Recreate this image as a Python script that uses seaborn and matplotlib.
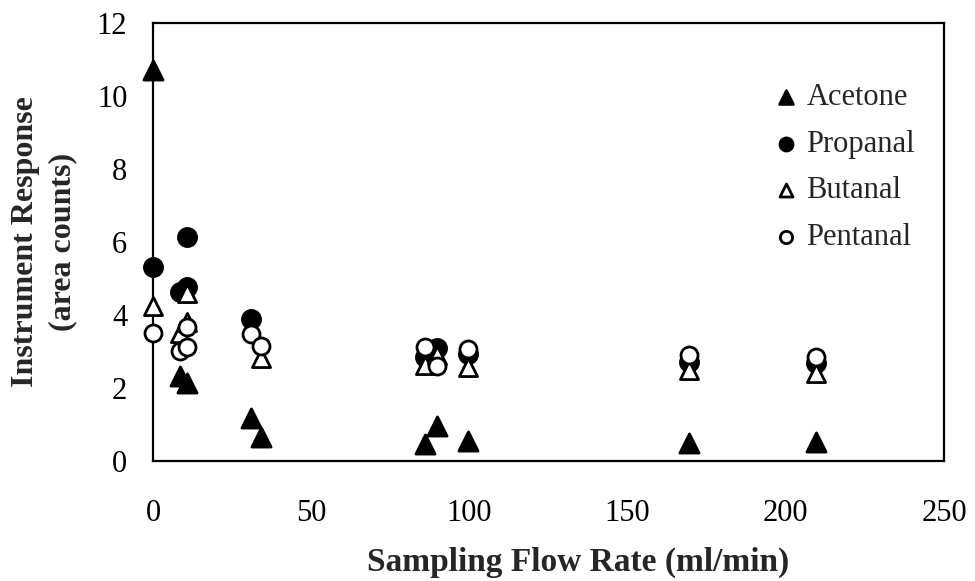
import matplotlib
matplotlib.use("Agg")
import matplotlib.pyplot as plt
import seaborn as sns
import pandas as pd

sns.set_theme(style="white")
plt.rcParams['font.family'] = ['Liberation Serif', 'DejaVu Serif']

acetone_x = [0, 8.5, 10.8, 31, 34, 86, 89.7, 99.5, 169.4, 209.7]
acetone_y = [10.7, 2.33, 2.15, 1.17, 0.67, 0.47, 0.96, 0.56, 0.48, 0.53]

propanal_x = [0, 8.5, 10.8, 10.8, 31, 86, 89.7, 99.5, 169.4, 209.7]
propanal_y = [5.32, 4.64, 4.78, 6.15, 3.88, 2.86, 3.10, 2.92, 2.72, 2.68]

butanal_x = [0, 8.5, 10.8, 10.8, 34, 86, 89.7, 99.5, 169.4, 209.7]
butanal_y = [4.25, 3.5, 3.82, 4.6, 2.81, 2.63, 2.9, 2.58, 2.49, 2.42]

pentanal_x = [0, 8.5, 10.8, 10.8, 31, 34, 86, 89.7, 99.5, 169.4, 209.7]
pentanal_y = [3.52, 3.02, 3.13, 3.68, 3.48, 3.15, 3.13, 2.6, 3.06, 2.9, 2.86]

x_ticks = [0, 50, 100, 150, 200, 250]
y_ticks = [0, 2, 4, 6, 8, 10, 12]

fig = plt.figure(figsize=(9.75, 5.81), dpi=100)
ax = fig.add_axes([153/975, 1-461/581, (944-153)/975, (461-23)/581])

series = [
    ("Acetone", acetone_x, acetone_y, "^", "black", 190),
    ("Propanal", propanal_x, propanal_y, "o", "black", 170),
    ("Butanal", butanal_x, butanal_y, "^", "white", 170),
    ("Pentanal", pentanal_x, pentanal_y, "o", "white", 150),
]
for name, xs, ys, m, fc, s in series:
    df = pd.DataFrame({"x": xs, "y": ys})
    sns.scatterplot(data=df, x="x", y="y", marker=m, s=s, color=fc,
                    edgecolor="black", linewidth=2.0, ax=ax, label=name,
                    clip_on=False, zorder=3)

ax.set_xlim(0, 250)
ax.set_ylim(0, 12)
ax.set_xticks(x_ticks)
ax.set_yticks(y_ticks)
for sp in ax.spines.values():
    sp.set_color("black")
    sp.set_linewidth(1.6)
ax.tick_params(axis="both", direction="inout", length=13, width=0.8, colors="#333333",
               labelsize=22, labelcolor="black")
ax.tick_params(axis="x", pad=21)
ax.tick_params(axis="y", pad=12)
ax.set_xlabel("Sampling Flow Rate (ml/min)", fontsize=24, fontweight="bold")
ax.xaxis.set_label_coords(0.537, -0.195)
ax.set_ylabel("Instrument Response\n(area counts)", fontsize=23, fontweight="bold",
              labelpad=14, linespacing=1.4)

leg = ax.legend(loc="upper left", bbox_to_anchor=(0.741, 0.926), frameon=False,
                fontsize=22, markerscale=0.72, handletextpad=0.0, labelspacing=0.58,
                handlelength=1.3)

fig.savefig("out.png", dpi=100)
